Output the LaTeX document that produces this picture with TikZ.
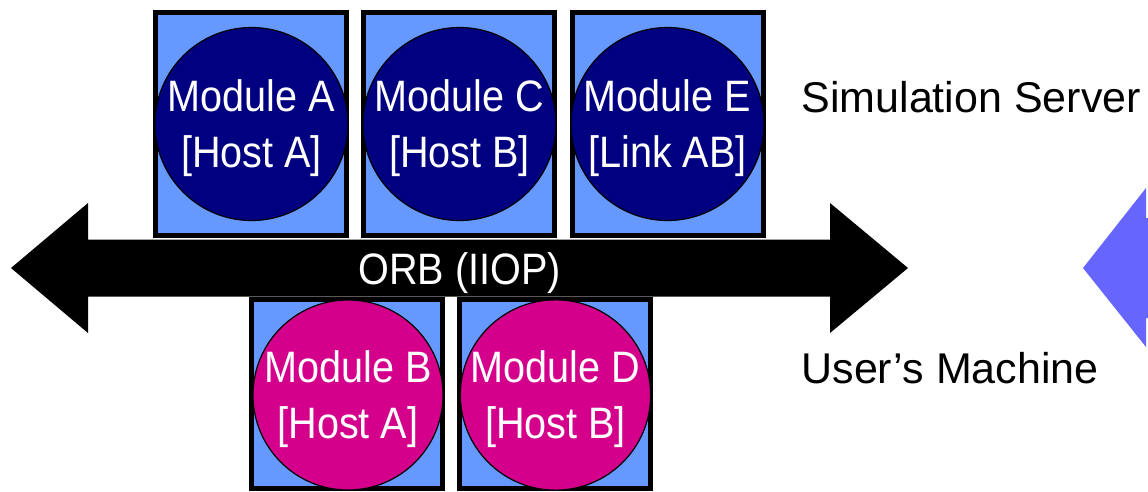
\documentclass[tikz,border=0pt]{standalone}
\usepackage{fontspec}
\setmainfont{Liberation Sans}
\newfontfamily\narrowfont[FakeStretch=0.9]{Liberation Sans}

\definecolor{hostblue}{RGB}{102,153,255}
\definecolor{servernavy}{RGB}{0,0,128}
\definecolor{usermagenta}{RGB}{212,0,140}
\definecolor{linkblue}{RGB}{102,102,255}

\begin{document}
\begin{tikzpicture}[x=1pt,y=-1pt,
  host/.style={draw,line width=5pt,fill=hostblue,minimum width=191pt,minimum height=223pt,inner sep=0pt},
  module/.style={circle,draw,line width=1.2pt,inner sep=0pt,text=white,align=center,text depth=0pt,
    font=\narrowfont\fontsize{44}{56}\selectfont},
  side/.style={anchor=base west,font=\fontsize{43}{50}\selectfont}]
  \useasboundingbox (0,0) rectangle (1148,491);
  % server side hosts
  \node[host] (hA) at (251,124) {};
  \node[host] (hC) at (459,124) {};
  \node[host] (hE) at (667.5,124) {};
  \node[module,fill=servernavy,minimum size=193pt] (mA) at (251.5,124) {Module A\\{}[Host A]};
  \node[module,fill=servernavy,minimum size=193pt] (mC) at (459.5,124) {Module C\\{}[Host B]};
  \node[module,fill=servernavy,minimum size=193pt] (mE) at (667.5,124) {Module E\\{}[Link AB]};
  % user side hosts
  \node[host,minimum height=189pt] (hB) at (346.5,394) {};
  \node[host,minimum height=189pt] (hD) at (555,394) {};
  \node[module,fill=usermagenta,minimum size=190pt] (mB) at (348,395) {Module B\\{}[Host A]};
  \node[module,fill=usermagenta,minimum size=190pt] (mD) at (555.5,395) {Module D\\{}[Host B]};
  % the bus
  \fill (11,268) -- (88,203) -- (88,239.5) -- (830,239.5) -- (830,203) -- (908,268)
    -- (830,333) -- (830,296.5) -- (88,296.5) -- (88,333) -- cycle;
  \node[anchor=base,text=white,font=\narrowfont\fontsize{44}{56}\selectfont] (orb) at (459.5,284) {ORB (IIOP)};
  \node[side] (server) at (798,112) {Simulation Server};
  \node[side] (user) at (798,383) {User’s Machine};
  % link arrow, runs off the right edge
  \fill[linkblue] (1083,268) -- (1146,188) -- (1146,218) -- (1148,218) -- (1148,318)
    -- (1146,318) -- (1146,347) -- cycle;
\end{tikzpicture}
\end{document}
